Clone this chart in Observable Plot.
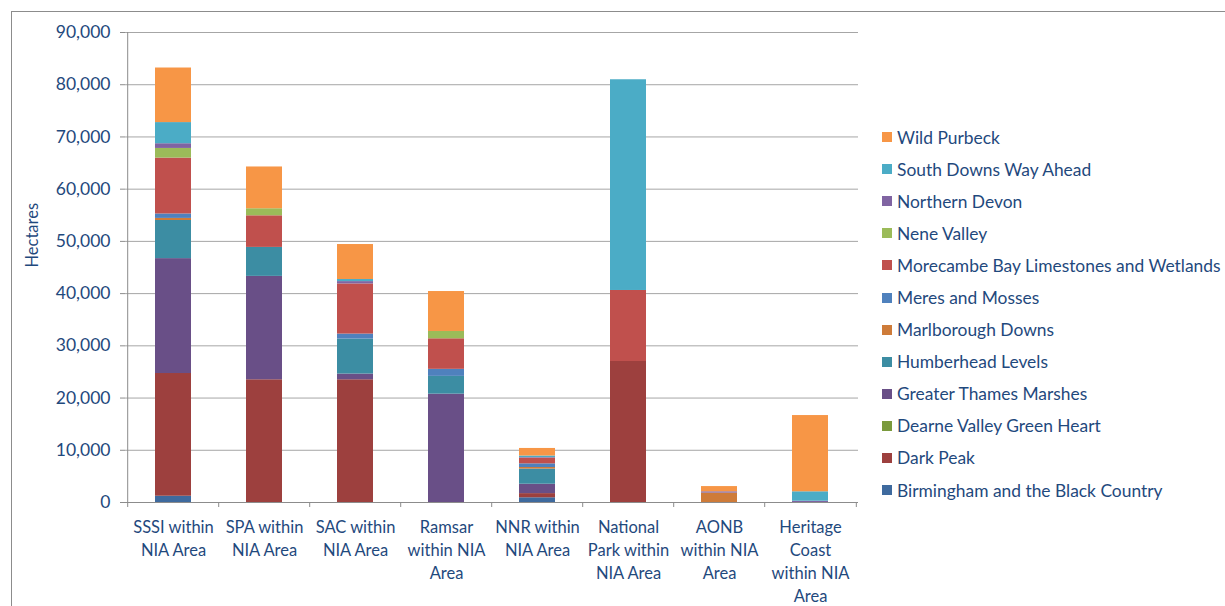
<!DOCTYPE html>
<html>
<head>
<meta charset="utf-8">
<script src="https://cdn.jsdelivr.net/npm/d3@7"></script>
<script src="https://cdn.jsdelivr.net/npm/@observablehq/plot@0.6"></script>
<style>
  html, body { margin: 0; padding: 0; background: #fff; }
  #wrap { position: relative; width: 1225px; height: 606px; overflow: hidden; }
  #frame { position: absolute; left: 11px; top: 11px; width: 1400px; height: 800px; border-left: 1px solid #8c8c8c; border-top: 1px solid #8c8c8c; }
  #legend { position: absolute; left: 882px; top: 121px; font-family: Lato, "Open Sans", sans-serif; font-size: 17.4px; color: #1F497D; }
  .row { height: 32.1px; display: flex; align-items: center; white-space: nowrap; }
  .sw { width: 10px; height: 10px; margin-right: 5px; flex: none; }
  svg { position: absolute; left: 0; top: 0; }
</style>
</head>
<body>
<div id="wrap"><div id="frame"></div><div id="legend"></div></div>
<script>
const categories = ["SSSI within NIA Area", "SPA within NIA Area", "SAC within NIA Area", "Ramsar within NIA Area", "NNR within NIA Area", "National Park within NIA Area", "AONB within NIA Area", "Heritage Coast within NIA Area"];
const tickLabels = ["SSSI within\nNIA Area", "SPA within\nNIA Area", "SAC within\nNIA Area", "Ramsar\nwithin NIA\nArea", "NNR within\nNIA Area", "National\nPark within\nNIA Area", "AONB\nwithin NIA\nArea", "Heritage\nCoast\nwithin NIA\nArea"];
const series = ["Birmingham and the Black Country", "Dark Peak", "Dearne Valley Green Heart", "Greater Thames Marshes", "Humberhead Levels", "Marlborough Downs", "Meres and Mosses", "Morecambe Bay Limestones and Wetlands", "Nene Valley", "Northern Devon", "South Downs Way Ahead", "Wild Purbeck"];
const colors = ["#3E6A9E", "#9D403E", "#7A9A3D", "#694F87", "#3C8DA3", "#CE7B39", "#4F81BD", "#C0504D", "#9BBB59", "#8064A2", "#4BACC6", "#F79646"];

const birmingham   = [1200, 0, 0, 0, 900, 0, 0, 0];
const darkPeak     = [23500, 23500, 23500, 0, 800, 27000, 0, 0];
const dearneValley = [0, 0, 0, 0, 0, 0, 0, 0];
const greaterThames= [22000, 19800, 1100, 20750, 1800, 0, 0, 0];
const humberhead   = [7300, 5550, 6700, 3400, 2900, 0, 0, 0];
const marlborough  = [400, 0, 0, 0, 300, 0, 1800, 0];
const meres        = [850, 0, 950, 1350, 700, 0, 0, 0];
const morecambe    = [10700, 6050, 9600, 5850, 1100, 13600, 0, 0];
const neneValley   = [1850, 1350, 0, 1400, 0, 0, 0, 0];
const northernDevon= [900, 0, 450, 0, 100, 0, 250, 250];
const southDowns   = [4050, 0, 400, 0, 300, 40350, 0, 1800];
const wildPurbeck  = [10450, 8000, 6700, 7650, 1450, 0, 1000, 14600];
const yTicks = [0, 10000, 20000, 30000, 40000, 50000, 60000, 70000, 80000, 90000];

const valuesBySeries = [birmingham, darkPeak, dearneValley, greaterThames, humberhead, marlborough, meres, morecambe, neneValley, northernDevon, southDowns, wildPurbeck];
const data = [];
series.forEach((s, i) => categories.forEach((c, j) => data.push({series: s, category: c, value: valuesBySeries[i][j]})));

const txt = "#1F497D";
const font = "Lato, 'Open Sans', sans-serif";
const step = (1225 - 367 - 125) / categories.length;

const chart = Plot.plot({
  width: 1225,
  height: 606,
  marginLeft: 125,
  marginRight: 367,
  marginTop: 32,
  marginBottom: 104,
  style: {fontFamily: font, background: "transparent", overflow: "visible"},
  x: {domain: categories, paddingInner: 0.6, paddingOuter: 0.3, axis: null},
  y: {domain: [0, 90000], axis: null},
  color: {domain: series, range: colors},
  marks: [
    Plot.gridY(yTicks, {stroke: "#a6a6a6", strokeOpacity: 1}),
    Plot.barY(data, {x: "category", y: "value", fill: "series", order: null}),
    Plot.ruleX([categories[0]], {dx: -step / 2, stroke: "#8c8c8c"}),
    Plot.ruleY([0], {stroke: "#8c8c8c"}),
    Plot.axisY(yTicks, {tickSize: 5, tickPadding: 10, stroke: "#8c8c8c", tickFormat: d3.format(","), fontSize: 17.5, fill: txt, label: null}),
    Plot.axisX(categories, {tickSize: 5, dx: -step / 2, stroke: "#8c8c8c", tickFormat: () => "", label: null}),
    Plot.axisX([categories[categories.length - 1]], {tickSize: 5, dx: step / 2, stroke: "#8c8c8c", tickFormat: () => "", label: null}),
    Plot.axisX(categories, {tickSize: 0, tickPadding: 14, tickFormat: (d) => tickLabels[categories.indexOf(d)], fontSize: 16.5, lineHeight: 1.4, fill: txt, label: null}),
    Plot.text(["Hectares"], {frameAnchor: "left", dx: -93, rotate: -90, fontSize: 16.5, fill: txt})
  ]
});
document.getElementById("wrap").appendChild(chart);

const legend = document.getElementById("legend");
series.slice().reverse().forEach((s) => {
  const i = series.indexOf(s);
  const row = document.createElement("div");
  row.className = "row";
  row.innerHTML = `<span class="sw" style="background:${colors[i]}"></span><span>${s}</span>`;
  legend.appendChild(row);
});
</script>
</body>
</html>
